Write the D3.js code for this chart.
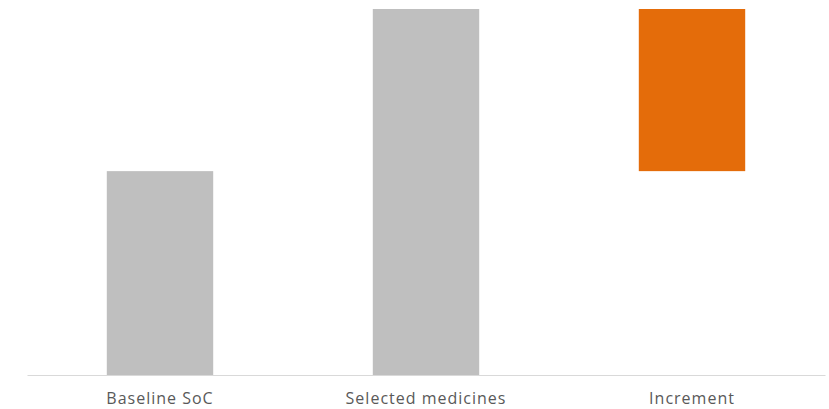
<!DOCTYPE html>
<html><head><meta charset="utf-8">
<script src="https://cdn.jsdelivr.net/npm/d3@7"></script>
<style>body{margin:0;background:#fff;} svg{display:block;}</style>
</head><body>
<svg id="c" width="829" height="409"></svg>
<script>
const categories = ["Baseline SoC", "Selected medicines", "Increment"];
const barStart = [0, 0, 55.7];
const barEnd = [55.7, 100, 100];
const barColors = ["#bfbfbf", "#bfbfbf", "#e46c0a"];

const svg = d3.select("#c");
const x = d3.scaleBand().domain(categories).range([27, 825]).paddingInner(0.6).paddingOuter(0.3);
const y = d3.scaleLinear().domain([0, 100]).range([375, 9]);

svg.selectAll("rect.bar").data(categories).join("rect")
  .attr("class","bar")
  .attr("x", d => x(d))
  .attr("width", x.bandwidth())
  .attr("y", (d,i) => y(barEnd[i]))
  .attr("height", (d,i) => y(barStart[i]) - y(barEnd[i]))
  .attr("fill", (d,i) => barColors[i]);

const axis = svg.append("g").attr("transform","translate(0,375)")
  .call(d3.axisBottom(x).tickSize(0).tickPadding(18));
axis.select(".domain").attr("stroke","#d9d9d9").attr("stroke-width",1.2);
axis.selectAll("text").attr("font-family","'Open Sans', sans-serif").attr("font-size","16px")
  .attr("fill","#595959").attr("letter-spacing","1px");
</script>
</body></html>
